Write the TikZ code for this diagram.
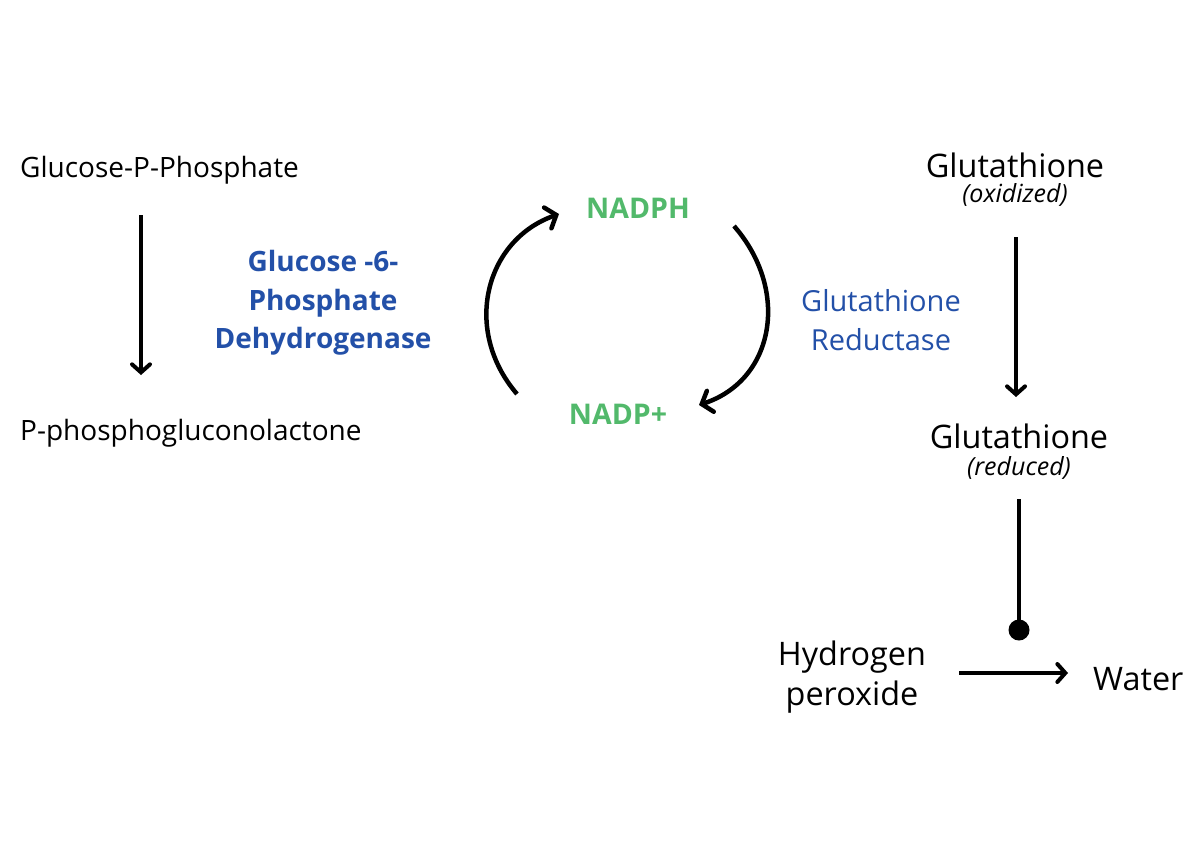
\documentclass[tikz,border=0pt]{standalone}
\usepackage{fontspec}
\setmainfont{Open Sans}
\usetikzlibrary{arrows.meta}
\definecolor{enzblue}{HTML}{2350A8}
\definecolor{nadgreen}{HTML}{52B96B}
\tikzset{
  txt/.style={font=\fontsize{28}{34}\selectfont, inner sep=0pt, align=center},
  bigtxt/.style={font=\fontsize{32.4}{40}\selectfont, inner sep=0pt, align=center},
  subtxt/.style={font=\fontsize{25}{28}\selectfont\itshape, inner sep=0pt},
  enzbold/.style={font=\fontsize{28}{38.5}\selectfont\bfseries, text=enzblue, inner sep=0pt, align=center},
  enzreg/.style={font=\fontsize{29}{39}\selectfont, text=enzblue, inner sep=0pt, align=center},
  nad/.style={font=\fontsize{28.5}{30}\selectfont\bfseries, text=nadgreen, inner sep=0pt},
  arr/.style={line width=4pt, -{Straight Barb[length=8pt,width=18pt,line cap=round]}},
  cyc/.style={line width=4.5pt, -{Straight Barb[length=9pt,width=22pt,line cap=round]}},
}
\begin{document}
\begin{tikzpicture}[x=1pt,y=-1pt]
\useasboundingbox (0,0) rectangle (1198,862);
% left pathway
\node[txt, anchor=west] (g6p) at (20,170) {Glucose-P-Phosphate};
\node[txt, anchor=west] (pgl) at (20,433) {P-phosphogluconolactone};
\coordinate (a1s) at (141,215);
\coordinate (a1e) at (141,375);
\draw[arr] (a1s) -- (a1e);
\node[enzbold] (g6pd) at (323,303) {Glucose -6-\\Phosphate\\Dehydrogenase};
% NADPH cycle
\node[nad] (nadph) at (638,208) {NADPH};
\node[nad] (nadp) at (618,414) {NADP+};
\coordinate (l1) at (517,394);
\coordinate (l2) at (559,214);
\coordinate (r1) at (734,226);
\coordinate (r2) at (699,405);
\draw[cyc] (l1) .. controls (462,330) and (485,240) .. (l2);
\draw[cyc] (r1) .. controls (790,290) and (775,380) .. (r2);
\node[enzreg] (gr) at (881,320) {Glutathione\\Reductase};
% glutathione
\node[bigtxt] (gox) at (1015,165) {Glutathione};
\node[subtxt] (oxl) at (1015,195) {(oxidized)};
\coordinate (a2s) at (1016,237);
\coordinate (a2e) at (1016,397);
\draw[arr] (a2s) -- (a2e);
\node[bigtxt] (gred) at (1019,436) {Glutathione};
\node[subtxt] (redl) at (1019,468) {(reduced)};
\coordinate (inhs) at (1019,499);
\coordinate (inhe) at (1019,630);
\draw[line width=4pt] (inhs) -- (inhe);
\fill (inhe) circle (10.5pt);
% peroxide
\node[bigtxt] (h2o2) at (852,677) {Hydrogen\\peroxide};
\node[bigtxt, anchor=west] (water) at (1093,679) {Water};
\coordinate (a3s) at (959,673);
\coordinate (a3e) at (1068,673);
\draw[arr] (a3s) -- (a3e);
\end{tikzpicture}
\end{document}
